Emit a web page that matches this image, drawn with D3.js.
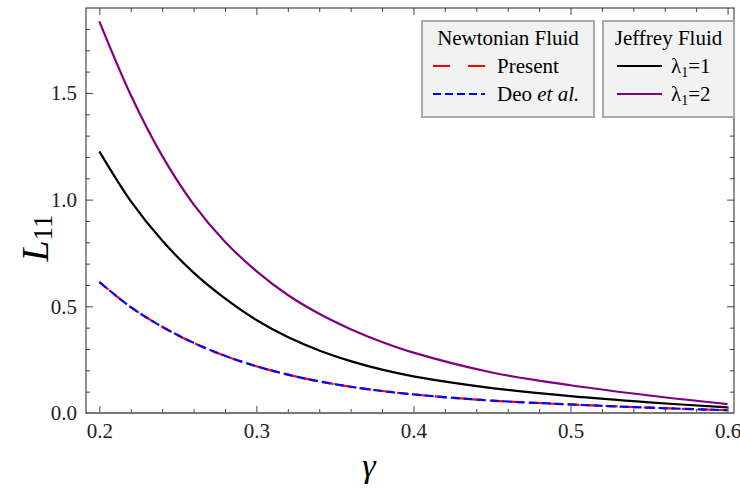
<!DOCTYPE html>
<html>
<head>
<meta charset="utf-8">
<script src="https://cdn.jsdelivr.net/npm/d3@7"></script>
<style>
  body { margin: 0; background: #fff; }
  svg text { font-family: "Liberation Serif", "Times New Roman", serif; }
</style>
</head>
<body>
<svg width="740" height="491"></svg>
<script>
// gamma values
var gamma = [0.20, 0.22, 0.24, 0.26, 0.28, 0.30, 0.32, 0.34, 0.36, 0.38, 0.40, 0.45, 0.50, 0.55, 0.60];

// Newtonian fluid
var present = [0.614, 0.496, 0.404, 0.329, 0.268, 0.219, 0.180, 0.148, 0.123, 0.103, 0.087, 0.058, 0.040, 0.025, 0.013];
var deo     = [0.614, 0.496, 0.404, 0.329, 0.268, 0.219, 0.180, 0.148, 0.123, 0.103, 0.087, 0.058, 0.040, 0.025, 0.013];

// Jeffrey fluid
var lambda1 = [1.226, 0.993, 0.808, 0.658, 0.537, 0.436, 0.356, 0.293, 0.243, 0.203, 0.172, 0.117, 0.079, 0.050, 0.026];
var lambda2 = [1.835, 1.490, 1.205, 0.978, 0.803, 0.665, 0.553, 0.465, 0.393, 0.333, 0.283, 0.190, 0.130, 0.082, 0.042];

var xMajor = [0.2, 0.3, 0.4, 0.5, 0.6];
var yMajor = [0.0, 0.5, 1.0, 1.5];

var svg = d3.select('svg');
var mLeft = 86, mRight = 734, mTop = 8, mBottom = 413;

var xScale = d3.scaleLinear().domain([0.1915, 0.6041]).range([mLeft, mRight]);
var yScale = d3.scaleLinear().domain([0, 1.898]).range([mBottom, mTop]);

// minor ticks
var xMinor = d3.range(0.2, 0.6001, 0.02).filter(function (v) {
	return Math.abs(v * 10 - Math.round(v * 10)) > 1e-6;
});
var yMinor = d3.range(0.1, 1.9, 0.1).filter(function (v) {
	return Math.abs(v * 2 - Math.round(v * 2)) > 1e-6;
});

var tickColor = '#444';

function frameAxis(axisFn, scale, values, size, transform) {
	svg.append('g')
		.attr('transform', transform)
		.call(axisFn(scale).tickValues(values).tickSize(size).tickFormat(''))
		.call(function (g) {
			g.select('.domain').remove();
			g.selectAll('line').attr('stroke', tickColor);
		});
}

// inward ticks on all four sides
frameAxis(d3.axisTop, xScale, xMajor, 7, 'translate(0,' + mBottom + ')');
frameAxis(d3.axisTop, xScale, xMinor, 4, 'translate(0,' + mBottom + ')');
frameAxis(d3.axisBottom, xScale, xMajor, 7, 'translate(0,' + mTop + ')');
frameAxis(d3.axisBottom, xScale, xMinor, 4, 'translate(0,' + mTop + ')');
frameAxis(d3.axisRight, yScale, yMajor, 7, 'translate(' + mLeft + ',0)');
frameAxis(d3.axisRight, yScale, yMinor, 4, 'translate(' + mLeft + ',0)');
frameAxis(d3.axisLeft, yScale, yMajor, 7, 'translate(' + mRight + ',0)');
frameAxis(d3.axisLeft, yScale, yMinor, 4, 'translate(' + mRight + ',0)');

// tick labels
function styleLabels(g) {
	g.select('.domain').remove();
	g.attr('font-family', null).attr('font-size', null);
	g.selectAll('text')
		.attr('fill', '#222')
		.style('font-size', '21px')
		.style('font-family', '"Liberation Serif", "Times New Roman", serif');
}

svg.append('g')
	.attr('transform', 'translate(0,' + mBottom + ')')
	.call(d3.axisBottom(xScale).tickValues(xMajor).tickSize(0).tickPadding(10).tickFormat(d3.format('.1f')))
	.call(styleLabels);

svg.append('g')
	.attr('transform', 'translate(' + mLeft + ',0)')
	.call(d3.axisLeft(yScale).tickValues(yMajor).tickSize(0).tickPadding(9).tickFormat(d3.format('.1f')))
	.call(styleLabels);

// frame
svg.append('rect')
	.attr('x', mLeft).attr('y', mTop)
	.attr('width', mRight - mLeft).attr('height', mBottom - mTop)
	.attr('fill', 'none').attr('stroke', '#222').attr('stroke-width', 1);

// curves
var line = d3.line()
	.x(function (d) { return xScale(d[0]); })
	.y(function (d) { return yScale(d[1]); })
	.curve(d3.curveCatmullRom.alpha(0.5));

function pairs(vals) {
	return gamma.map(function (g, i) { return [g, vals[i]]; });
}

var series = [
	{ vals: lambda2, color: '#800080', dash: null },
	{ vals: lambda1, color: '#000000', dash: null },
	{ vals: present, color: '#ff0000', dash: '12,7' },
	{ vals: deo, color: '#0000ff', dash: '9,4' }
];

svg.append('g').selectAll('path')
	.data(series)
	.enter()
	.append('path')
	.attr('d', function (d) { return line(pairs(d.vals)); })
	.attr('fill', 'none')
	.attr('stroke', function (d) { return d.color; })
	.attr('stroke-width', 2.2)
	.attr('stroke-dasharray', function (d) { return d.dash; });

// gray axis at y = 0
svg.append('line')
	.attr('x1', mLeft + 1).attr('x2', mRight)
	.attr('y1', yScale(0)).attr('y2', yScale(0))
	.attr('stroke', '#777').attr('stroke-width', 2);

// axis titles
svg.append('text')
	.attr('x', 369).attr('y', 477)
	.attr('text-anchor', 'middle')
	.style('font-size', '34px').attr('font-style', 'italic')
	.text('γ');

var yl = svg.append('text')
	.attr('transform', 'translate(48,238) rotate(-90)')
	.attr('text-anchor', 'middle')
	.style('font-size', '38px');
yl.append('tspan').attr('font-style', 'italic').text('L');
yl.append('tspan').style('font-size', '27px').attr('dy', 4).text('11');

// legends
function legendBox(x, w, title, items) {
	var g = svg.append('g').attr('transform', 'translate(' + x + ',21)');
	g.append('rect')
		.attr('width', w).attr('height', 96)
		.attr('fill', '#f2f2f2').attr('stroke', '#aaa').attr('stroke-width', 2);
	g.append('text')
		.attr('x', w / 2).attr('y', 24)
		.attr('text-anchor', 'middle').style('font-size', '21px')
		.text(title);
	items.forEach(function (it, i) {
		var yy = 45 + i * 28;
		g.append('line')
			.attr('x1', it.x1).attr('x2', it.x2)
			.attr('y1', yy).attr('y2', yy)
			.attr('stroke', it.color).attr('stroke-width', 2)
			.attr('stroke-dasharray', it.dash);
		var t = g.append('text')
			.attr('x', it.tx).attr('y', yy + 7)
			.style('font-size', '21px');
		it.label(t);
	});
}

legendBox(422, 172, 'Newtonian Fluid', [
	{ x1: 11, x2: 63, color: '#ff0000', dash: '17,18', tx: 75,
		label: function (t) { t.text('Present'); } },
	{ x1: 11, x2: 63, color: '#0000ff', dash: '8,4', tx: 75,
		label: function (t) {
			t.append('tspan').text('Deo ');
			t.append('tspan').attr('font-style', 'italic').text('et al.');
		} }
]);

legendBox(603, 131, 'Jeffrey Fluid', [
	{ x1: 14, x2: 59, color: '#000000', dash: null, tx: 68,
		label: function (t) {
			t.append('tspan').text('λ');
			t.append('tspan').style('font-size', '14px').attr('dy', 4).text('1');
			t.append('tspan').attr('dy', -4).text('=1');
		} },
	{ x1: 14, x2: 59, color: '#800080', dash: null, tx: 68,
		label: function (t) {
			t.append('tspan').text('λ');
			t.append('tspan').style('font-size', '14px').attr('dy', 4).text('1');
			t.append('tspan').attr('dy', -4).text('=2');
		} }
]);
</script>
</body>
</html>
